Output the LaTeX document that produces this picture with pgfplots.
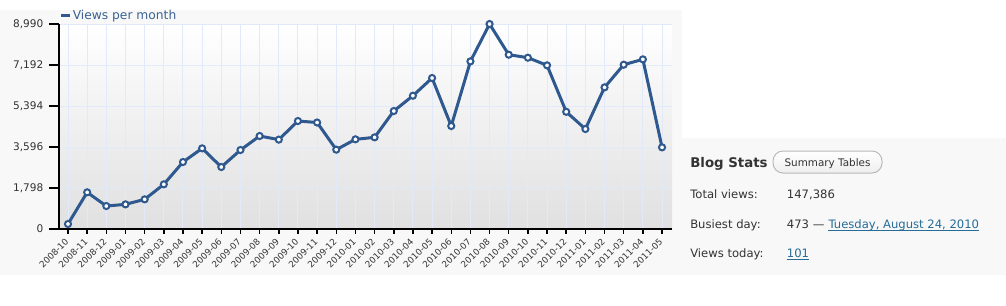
\documentclass[border=0pt]{standalone}
\usepackage{fontspec}
\setmainfont{DejaVu Sans}
\usepackage{pgfplots}
\pgfplotsset{compat=1.18}
\definecolor{linec}{RGB}{46,88,142}
\definecolor{legc}{RGB}{58,98,147}
\definecolor{gridc}{RGB}{226,233,250}
\definecolor{panel}{RGB}{248,248,248}
\definecolor{txt}{RGB}{51,51,51}
\definecolor{linkc}{RGB}{38,108,150}
\definecolor{botc}{RGB}{224,224,224}
\definecolor{btnb}{RGB}{185,185,185}
\definecolor{btnf}{RGB}{238,238,238}
\begin{document}
\begin{tikzpicture}
\begin{scope}[x=0.75pt,y=-0.75pt]
\useasboundingbox (0,0) rectangle (1006,305);
\fill[white] (0,0) rectangle (1006,305);
\fill[panel] (0,10) rectangle (682,275);
\fill[panel] (682,138) rectangle (1006,275);
\end{scope}
\begin{axis}[
  at={(44.25pt,-171.75pt)}, anchor=south west,
  scale only axis, width=459.75pt, height=153.75pt,
  xmin=-0.47, xmax=31.52, ymin=0, ymax=8990,
  axis x line*=bottom, axis y line*=left,
  x axis line style={-, line width=1.5pt, black},
  y axis line style={-, line width=1.5pt, black},
  tick align=outside,
  major tick length=7.5pt,
  xtick style={black, line width=1.1pt, /pgfplots/major tick length=3.5pt},
  ytick style={black, line width=1.1pt},
  xtick={0,...,31},
  xticklabels={2008-10,2008-11,2008-12,2009-01,2009-02,2009-03,2009-04,2009-05,2009-06,2009-07,2009-08,2009-09,2009-10,2009-11,2009-12,2010-01,2010-02,2010-03,2010-04,2010-05,2010-06,2010-07,2010-08,2010-09,2010-10,2010-11,2010-12,2011-01,2011-02,2011-03,2011-04,2011-05},
  ytick={0,1798,3596,5394,7192,8990},
  yticklabels={0,{1,798},{3,596},{5,394},{7,192},{8,990}},
  xticklabel style={rotate=45, anchor=east, font=\fontsize{6.6pt}{7pt}\selectfont, text=txt, inner sep=1pt},
  yticklabel style={font=\fontsize{7.9pt}{9pt}\selectfont, text=txt, xshift=-0.75pt},
  grid=major, major grid style={gridc, line width=0.75pt},
  axis background/.style={shade, top color=white, bottom color=botc},
  clip=false,
  legend style={at={(axis description cs:0,1)}, anchor=west, yshift=6.3pt, xshift=0pt,
    draw=none, fill=none, inner sep=0pt, font=\fontsize{9.2pt}{10pt}\selectfont, text=legc,
    nodes={inner sep=1pt}},
  legend image code/.code={\draw[line width=2.4pt, color=linec] (0pt,0pt) -- (6.75pt,0pt);},
]
\addplot[color=linec, line width=2.25pt, mark=*, mark size=2.3pt,
  mark options={fill=white, draw=linec, line width=1.5pt}] coordinates {
(0,220) (1,1609) (2,1008) (3,1081) (4,1301) (5,1959) (6,2938) (7,3537)
(8,2719) (9,3464) (10,4078) (11,3920) (12,4736) (13,4670) (14,3480) (15,3933)
(16,4020) (17,5174) (18,5846) (19,6621) (20,4517) (21,7352) (22,8990) (23,7644)
(24,7513) (25,7177) (26,5140) (27,4385) (28,6212) (29,7206) (30,7440) (31,3581)
};
\legend{Views per month}
\end{axis}
\begin{scope}[x=0.75pt,y=-0.75pt, every node/.style={inner sep=0pt, text=txt, font=\fontsize{8.7pt}{10pt}\selectfont}]
\node[anchor=base west, font=\bfseries\fontsize{10pt}{12pt}\selectfont] at (690,167.3) {Blog Stats};
\draw[btnb, line width=0.75pt, rounded corners=7.5pt, top color=white, bottom color=btnf] (773,151) rectangle (882,173);
\node[anchor=base, font=\fontsize{7.8pt}{8pt}\selectfont] at (827.5,166.7) {Summary Tables};
\node[anchor=base west] at (690,198.5) {Total views:};
\node[anchor=base west] at (786.7,198.5) {147,386};
\node[anchor=base west] at (690,228.3) {Busiest day:};
\node[anchor=base west] at (786.7,228.3) {473 —};
\node[anchor=base west, text=linkc] (t1) at (828.3,228.3) {Tuesday, August 24, 2010};
\draw[linkc, line width=0.75pt] ([yshift=-1.3pt]t1.base west) -- ([yshift=-1.3pt]t1.base east);
\node[anchor=base west] at (690,257.3) {Views today:};
\node[anchor=base west, text=linkc] (t2) at (786.7,257.3) {101};
\draw[linkc, line width=0.75pt] ([yshift=-1.3pt]t2.base west) -- ([yshift=-1.3pt]t2.base east);
\end{scope}
\end{tikzpicture}
\end{document}
